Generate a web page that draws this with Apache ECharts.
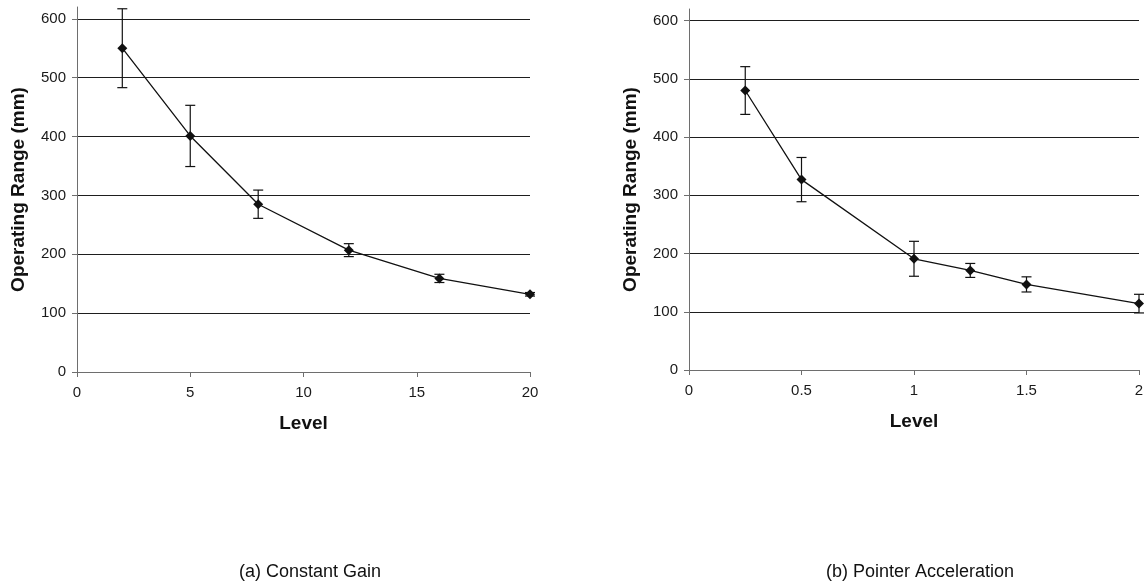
<!DOCTYPE html>
<html>
<head>
<meta charset="utf-8">
<script src="https://cdn.jsdelivr.net/npm/echarts@6/dist/echarts.min.js"></script>
<style>
html,body{margin:0;padding:0;background:#fff;}
#chart{width:1147px;height:586px;}
</style>
</head>
<body>
<div id="chart"></div>
<script>
// ---- data ----
const levelsA = [2, 5, 8, 12, 16, 20];
const rangeA  = [550, 401, 285, 207, 159, 132];
const errA    = [67, 52, 24, 11, 7, 3];

const levelsB = [0.25, 0.5, 1, 1.25, 1.5, 2];
const rangeB  = [480, 327, 191, 171, 147, 114];
const errB    = [41, 38, 30, 12, 13, 16];

const yTicks  = [0, 100, 200, 300, 400, 500, 600];
const xTicksA = [0, 5, 10, 15, 20];
const xTicksB = [0, 0.5, 1, 1.5, 2];

const yName = 'Operating Range (mm)';
const xName = 'Level';
const titleA = '(a) Constant Gain';
const titleB = '(b) Pointer Acceleration';

// ---- build ----
const FONT = 'Liberation Sans, Arial, Helvetica, sans-serif';
const axisGray = '#6e6e6e';
const gridBlack = '#1e1e1e';

function pts(xs, ys) { return xs.map((x, i) => [x, ys[i]]); }
function errPts(xs, ys, es) { return xs.map((x, i) => [x, ys[i] - es[i], ys[i] + es[i]]); }

function errRender(params, api) {
  const x = api.value(0);
  const lo = api.coord([x, api.value(1)]);
  const hi = api.coord([x, api.value(2)]);
  const cap = 5;
  const style = { stroke: '#111', lineWidth: 1.2 };
  return {
    type: 'group',
    children: [
      { type: 'line', shape: { x1: lo[0], y1: lo[1], x2: hi[0], y2: hi[1] }, style },
      { type: 'line', shape: { x1: lo[0] - cap, y1: lo[1], x2: lo[0] + cap, y2: lo[1] }, style },
      { type: 'line', shape: { x1: hi[0] - cap, y1: hi[1], x2: hi[0] + cap, y2: hi[1] }, style }
    ]
  };
}

function xAxis(idx, ticks) {
  return {
    type: 'value', gridIndex: idx,
    min: ticks[0], max: ticks[ticks.length - 1], interval: ticks[1] - ticks[0],
    name: xName, nameLocation: 'middle', nameGap: 42,
    nameTextStyle: { fontFamily: FONT, fontSize: 19, fontWeight: 'bold', color: '#111' },
    axisLine: { show: true, onZero: false, lineStyle: { color: axisGray, width: 1 } },
    axisTick: { show: true, inside: false, length: 5, lineStyle: { color: axisGray } },
    axisLabel: { fontFamily: FONT, fontSize: 15, color: '#1a1a1a', margin: 13,
                 formatter: v => String(v) },
    splitLine: { show: false }
  };
}

function yAxis(idx) {
  return {
    type: 'value', gridIndex: idx,
    min: 0, max: 620,
    name: yName, nameLocation: 'middle', nameGap: 49, nameRotate: 90,
    nameTextStyle: { fontFamily: FONT, fontSize: 19, fontWeight: 'bold', color: '#111' },
    axisLine: { show: true, lineStyle: { color: axisGray, width: 1 } },
    axisTick: { show: true, inside: false, length: 5, lineStyle: { color: axisGray }, customValues: yTicks },
    axisLabel: { fontFamily: FONT, fontSize: 15, color: '#1a1a1a', margin: 11, customValues: yTicks },
    splitLine: { show: true, lineStyle: { color: gridBlack, width: 1.2 } }
  };
}

function lineSeries(idx, data) {
  return {
    type: 'line', xAxisIndex: idx, yAxisIndex: idx, data,
    symbol: 'diamond', symbolSize: 10, showSymbol: true,
    itemStyle: { color: '#111' },
    lineStyle: { color: '#111', width: 1.3 },
    animation: false, z: 3
  };
}

function errSeries(idx, data) {
  return {
    type: 'custom', xAxisIndex: idx, yAxisIndex: idx, data,
    renderItem: errRender, clip: false, animation: false, z: 4,
    encode: { x: 0, y: [1, 2] }
  };
}

const option = {
  backgroundColor: '#fff',
  animation: false,
  title: [
    { text: titleA, left: 305, top: 558, textAlign: 'center',
      textStyle: { fontFamily: FONT, fontSize: 18, fontWeight: 'normal', color: '#111' } },
    { text: titleB, left: 915, top: 558, textAlign: 'center',
      textStyle: { fontFamily: FONT, fontSize: 18, fontWeight: 'normal', color: '#111' } }
  ],
  grid: [
    { left: 77, right: 617, top: 7, bottom: 214, containLabel: false },
    { left: 689, right: 8, top: 9, bottom: 216, containLabel: false }
  ],
  xAxis: [xAxis(0, xTicksA), xAxis(1, xTicksB)],
  yAxis: [yAxis(0), yAxis(1)],
  series: [
    lineSeries(0, pts(levelsA, rangeA)),
    errSeries(0, errPts(levelsA, rangeA, errA)),
    lineSeries(1, pts(levelsB, rangeB)),
    errSeries(1, errPts(levelsB, rangeB, errB))
  ]
};

const chart = echarts.init(document.getElementById('chart'), null, { renderer: 'canvas' });
chart.setOption(option);
</script>
</body>
</html>
